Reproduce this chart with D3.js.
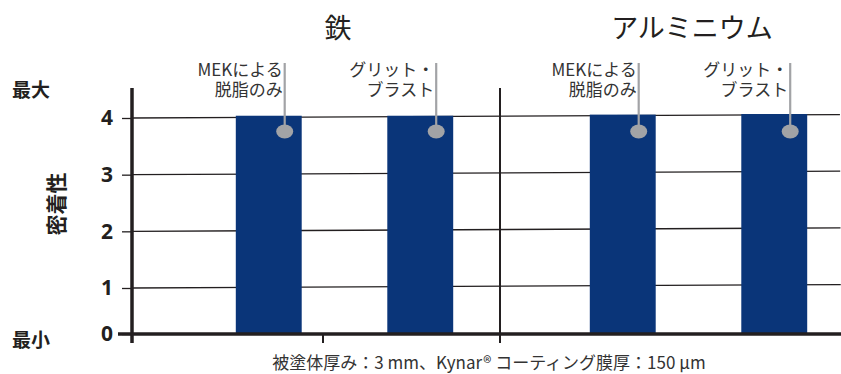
<!DOCTYPE html>
<html>
<head>
<meta charset="utf-8">
<script src="https://cdn.jsdelivr.net/npm/d3@7"></script>
<style>
  body { margin: 0; background: #fff; }
  svg { display: block; font-family: "Noto Sans CJK JP", "Noto Sans", sans-serif; }
</style>
</head>
<body>
<div id="chart"></div>
<script>
// data
const groups = ["鉄", "アルミニウム"];
const treatments = ["mek", "grit"];
const treatmentLabels = [["MEKによる", "脱脂のみ"], ["グリット・", "ブラスト"]];
const ironValues = [4.04, 4.04];
const aluminumValues = [4.06, 4.07];
const yTicks = [0, 1, 2, 3, 4];
const caption = "被塗体厚み：3 mm、Kynar® コーティング膜厚：150 µm";

const width = 841, height = 374;
const ink = "#231f20", barColor = "#0a3579", leaderColor = "#a2a3a6";

const data = [];
groups.forEach(function(g, gi) {
  const vals = gi === 0 ? ironValues : aluminumValues;
  treatments.forEach(function(t, ti) {
    data.push({group: g, treatment: t, label: treatmentLabels[ti], value: vals[ti]});
  });
});

const svg = d3.select("#chart").append("svg")
    .attr("width", width)
    .attr("height", height);

const x0 = d3.scaleBand().domain(groups).range([146, 854]);
const x1 = d3.scaleBand().domain(treatments).range([47, 350])
    .paddingInner(0.565).paddingOuter(0.2825);
// the printed axis is squeezed between 0 and 1
const y = d3.scaleLinear().domain([0, 1, 4]).range([334, 288, 118]);

const axisLeft = 132;

// gridlines (slightly tilted like the print)
svg.append("g")
    .attr("transform", "rotate(-0.28," + axisLeft + "," + y(0) + ")")
  .selectAll("line.grid")
  .data(yTicks.filter(function(d) { return d > 0; }))
  .enter().append("line")
    .attr("class", "grid")
    .attr("x1", axisLeft).attr("x2", width)
    .attr("y1", function(d) { return y(d); })
    .attr("y2", function(d) { return y(d); })
    .attr("stroke", ink)
    .attr("stroke-width", 1.3);

// bars
const bar = svg.append("g").selectAll("g.bar")
  .data(data)
  .enter().append("g")
    .attr("class", "bar")
    .attr("transform", function(d) { return "translate(" + x0(d.group) + ",0)"; });

bar.append("rect")
    .attr("x", function(d) { return x1(d.treatment); })
    .attr("y", function(d) { return y(d.value); })
    .attr("width", x1.bandwidth())
    .attr("height", function(d) { return y(0) - y(d.value) + 1; })
    .attr("fill", barColor);

// leader lines and dots
const lx = function(d) { return x1(d.treatment) + x1.bandwidth() - 17; };
bar.append("line")
    .attr("x1", lx).attr("x2", lx)
    .attr("y1", 63).attr("y2", 130)
    .attr("stroke", leaderColor)
    .attr("stroke-width", 2.2);
bar.append("ellipse")
    .attr("cx", lx).attr("cy", 131.5)
    .attr("rx", 8.5).attr("ry", 7)
    .attr("fill", leaderColor);

// two-line labels, one text per line
bar.selectAll("text.lab")
  .data(function(d) { return d.label.map(function(s) { return {s: s, x: lx(d) - 2}; }); })
  .enter().append("text")
    .attr("class", "lab")
    .attr("x", function(d) { return d.x; })
    .attr("y", function(d, i) { return 76 + i * 20; })
    .attr("text-anchor", "end")
    .attr("fill", "#333")
    .style("font-size", "17px")
    .text(function(d) { return d.s; });

// group titles
svg.append("g").selectAll("text")
  .data(groups)
  .enter().append("text")
    .attr("x", function(d) { return x0(d) + x0.bandwidth() / 2 + 15; })
    .attr("y", 38)
    .attr("text-anchor", "middle")
    .attr("fill", ink)
    .style("font-size", "27px")
    .text(function(d) { return d; });

// separator between groups and middle tick of first group
svg.append("line")
    .attr("x1", x0(groups[1])).attr("x2", x0(groups[1]))
    .attr("y1", 88).attr("y2", 343)
    .attr("stroke", ink).attr("stroke-width", 2);
svg.append("line")
    .attr("x1", x0(groups[0]) + x0.bandwidth() / 2).attr("x2", x0(groups[0]) + x0.bandwidth() / 2)
    .attr("y1", y(0)).attr("y2", 343)
    .attr("stroke", ink).attr("stroke-width", 2);

// y axis
svg.append("line")
    .attr("x1", axisLeft).attr("x2", axisLeft)
    .attr("y1", 88).attr("y2", 343)
    .attr("stroke", ink).attr("stroke-width", 3.5);
svg.append("line")
    .attr("x1", 118).attr("x2", width)
    .attr("y1", y(0)).attr("y2", y(0))
    .attr("stroke", ink).attr("stroke-width", 3.5);

const yAxis = d3.axisLeft(y).tickValues(yTicks).tickFormat(d3.format("d"))
    .tickSize(10).tickPadding(9);
const gy = svg.append("g")
    .attr("transform", "translate(" + axisLeft + ",0)")
    .call(yAxis);
gy.select(".domain").remove();
gy.selectAll(".tick line").attr("stroke", ink).attr("stroke-width", 1.3);
gy.selectAll(".tick text")
    .attr("fill", ink)
    .style("font-size", "21px")
    .style("font-weight", "bold")
    .style("font-family", "'Noto Sans', sans-serif");

// axis notes
svg.append("text")
    .attr("x", 12).attr("y", 97)
    .attr("fill", ink)
    .style("font-size", "19px").style("font-weight", "bold")
    .text("最大");
svg.append("text")
    .attr("x", 12).attr("y", 347)
    .attr("fill", ink)
    .style("font-size", "19px").style("font-weight", "bold")
    .text("最小");
svg.append("text")
    .attr("transform", "translate(64,204) rotate(-90)")
    .attr("text-anchor", "middle")
    .attr("fill", ink)
    .style("font-size", "21px").style("font-weight", "bold")
    .text("密着性");

svg.append("text")
    .attr("x", 489).attr("y", 369)
    .attr("text-anchor", "middle")
    .attr("fill", "#333")
    .style("font-size", "17px")
    .text(caption);
</script>
</body>
</html>
